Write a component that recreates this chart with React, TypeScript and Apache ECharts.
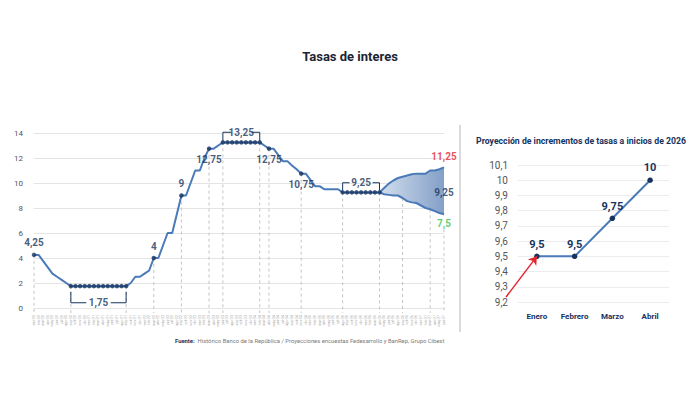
import React, { useEffect, useRef } from "react";
import * as echarts from "echarts";

// ---------- DATA ----------
const MESES = ["ene", "feb", "mar", "abr", "may", "jun", "jul", "ago", "sep", "oct", "nov", "dic"];
const ANIOS = ["20", "21", "22", "23", "24", "25", "26", "27"];
const FECHAS: string[] = ANIOS.flatMap((a) => MESES.map((m) => `${m}-${a}`)).slice(0, 90);

// Historical monthly policy rate (index 0 = ene-20)
const TASA_HIST = [
  4.25, 4.25, 3.75, 3.25, 2.75, 2.5, 2.25, 2.0,
  1.75, 1.75, 1.75, 1.75, 1.75, 1.75, 1.75, 1.75, 1.75, 1.75, 1.75, 1.75, 1.75,
  2.0, 2.5, 2.5, 2.75, 3.0, 4.0, 4.0, 5.0, 6.0, 6.0, 7.5, 9.0, 9.0, 10.0, 11.0, 11.0, 12.0, 12.75, 12.75, 13.0,
  13.25, 13.25, 13.25, 13.25, 13.25, 13.25, 13.25, 13.25, 13.25,
  13.0, 12.75, 12.75, 12.25, 11.75, 11.75, 11.4, 11.1, 10.75, 10.75, 10.25, 9.75, 9.75, 9.5, 9.5, 9.5, 9.5,
  9.25, 9.25, 9.25, 9.25, 9.25, 9.25, 9.25, 9.25, 9.25,
];
const INICIO_PROY = 75;
const PROY_ALTA = [9.25, 9.6, 9.95, 10.2, 10.4, 10.5, 10.6, 10.7, 10.75, 10.75, 10.75, 11.0, 11.0, 11.1, 11.25];
const PROY_BAJA = [9.25, 9.1, 9.05, 9.0, 9.0, 8.8, 8.55, 8.45, 8.4, 8.2, 8.0, 7.9, 7.75, 7.6, 7.5];
const PROY_CENTRAL = 9.25;

const PUNTOS = [0, 8, 9, 10, 11, 12, 13, 14, 15, 16, 17, 18, 19, 20, 26, 32, 38, 41, 42, 43, 44, 45, 46, 47, 48, 49, 51, 58, 67, 68, 69, 70, 71, 72, 73, 74, 75];
const VERTICALES = [0, 8, 20, 26, 32, 38, 41, 49, 51, 58, 67, 75, 80, 86, 89];

const MESES_2026 = ["Enero", "Febrero", "Marzo", "Abril"];
const PROY_2026 = [9.5, 9.5, 9.75, 10];

// ---------- STYLE ----------
const NAVY = "#16335e";
const LINE = "#4a7ab8";
const FONT = "Roboto, 'Noto Sans', sans-serif";

const fmt = (v: number) => String(Number(v.toFixed(2))).replace(".", ",");
const valAt = (i: number) => (i <= INICIO_PROY ? TASA_HIST[i] : PROY_BAJA[i - INICIO_PROY]);
const last = PROY_ALTA.length - 1;
const lastIdx = INICIO_PROY + last;

export default function App() {
  const ref = useRef<HTMLDivElement>(null);

  useEffect(() => {
    if (!ref.current) return;
    const chart = echarts.init(ref.current, undefined, { renderer: "svg" });

    const brackets = [
      { from: 8, to: 20, value: 1.75, y: 0.42, y0: 1.3, gap: 2.65 },
      { from: 41, to: 49, value: 13.25, y: 14.06, y0: 13.35, gap: 2.2 },
      { from: 67, to: 75, value: 9.25, y: 10.02, y0: 9.42, gap: 2.5 },
    ];
    const bracketSeries: any[] = [];
    brackets.forEach((b) => {
      const mid = (b.from + b.to) / 2;
      [
        [[b.from, b.y0], [b.from, b.y], [mid - b.gap, b.y]],
        [[mid + b.gap, b.y], [b.to, b.y], [b.to, b.y0]],
      ].forEach((d) =>
        bracketSeries.push({
          type: "line",
          xAxisIndex: 0,
          yAxisIndex: 0,
          data: d,
          symbol: "none",
          clip: false,
          silent: true,
          z: 4,
          lineStyle: { color: NAVY, width: 1 },
        })
      );
    });

    const label = (pos: string, dist: number, color = NAVY, size = 10) => ({
      show: true,
      position: pos,
      distance: dist,
      color,
      fontSize: size,
      fontWeight: "bold",
      fontFamily: FONT,
      textBorderWidth: 0,
    });

    const annotations = [
      { value: [0, TASA_HIST[0]], label: label("top", 5) },
      { value: [26, TASA_HIST[26]], label: label("top", 5) },
      { value: [32, TASA_HIST[32]], label: label("top", 5) },
      { value: [38, TASA_HIST[38]], label: label("bottom", 4) },
      { value: [51, TASA_HIST[51]], label: label("bottom", 4) },
      { value: [58, TASA_HIST[58]], label: label("bottom", 4) },
      { value: [lastIdx, PROY_ALTA[last]], label: label("top", 4, "#e0262d") },
      { value: [lastIdx, PROY_CENTRAL], label: label("inside", 0) },
      { value: [lastIdx, PROY_BAJA[last]], label: label("bottom", 2, "#3cc24e") },
      ...brackets.map((b) => ({ value: [(b.from + b.to) / 2, b.y], shown: b.value, label: label("inside", 0) })),
    ];

    const option: any = {
      animation: false,
      backgroundColor: "#ffffff",
      textStyle: { fontFamily: FONT },
      grid: [
        { left: 34, right: 256, top: 133, bottom: 86 },
        { left: 518, right: 31, top: 165, bottom: 92 },
      ],
      xAxis: [
        {
          type: "value",
          gridIndex: 0,
          min: 0,
          max: FECHAS.length - 1,
          interval: 1,
          axisLine: { show: false },
          axisTick: { show: false },
          splitLine: { show: false },
          axisLabel: {
            rotate: 90,
            fontSize: 3.5,
            color: "#a0a0a0",
            margin: 7,
            formatter: (v: number) => FECHAS[Math.round(v)] ?? "",
          },
        },
        {
          type: "category",
          gridIndex: 1,
          data: MESES_2026,
          boundaryGap: true,
          axisLine: { show: false },
          axisTick: { show: false },
          axisLabel: { color: NAVY, fontWeight: "bold", fontSize: 8, margin: 10 },
        },
      ],
      yAxis: [
        {
          type: "value",
          gridIndex: 0,
          min: 0,
          max: 14,
          interval: 2,
          axisLine: { show: false },
          axisTick: { show: false },
          axisLabel: { color: "#555", fontSize: 8, margin: 11 },
          splitLine: { lineStyle: { color: "#e4e4e4", width: 1 } },
        },
        {
          type: "value",
          gridIndex: 1,
          min: 9.2,
          max: 10.1,
          interval: 0.1,
          axisLine: { show: false },
          axisTick: { show: false },
          axisLabel: { color: "#555", fontSize: 10, margin: 10, formatter: (v: number) => fmt(v) },
          splitLine: { lineStyle: { color: "#ececec", width: 1 } },
        },
      ],
      series: [
        {
          name: "verticales",
          type: "custom",
          xAxisIndex: 0,
          yAxisIndex: 0,
          silent: true,
          clip: false,
          z: 0,
          data: VERTICALES.map((i) => [i, valAt(i) - (i === lastIdx ? 1.2 : 0)]),
          renderItem: (params: any, api: any) => {
            const top = api.coord([api.value(0), api.value(1)]);
            const bot = api.coord([api.value(0), 0]);
            return {
              type: "line",
              shape: { x1: top[0], y1: top[1], x2: bot[0], y2: bot[1] + 5 },
              style: { stroke: "#c4c4c4", lineWidth: 1, lineDash: [3, 3] },
            };
          },
        },
        {
          name: "rango",
          type: "custom",
          xAxisIndex: 0,
          yAxisIndex: 0,
          silent: true,
          z: 1,
          data: [[INICIO_PROY, PROY_CENTRAL]],
          renderItem: (params: any, api: any) => {
            const up = PROY_ALTA.map((v, k) => api.coord([INICIO_PROY + k, v]));
            const down = PROY_BAJA.map((v, k) => api.coord([INICIO_PROY + k, v])).reverse();
            return {
              type: "polygon",
              shape: { points: up.concat(down) },
              style: {
                fill: new echarts.graphic.LinearGradient(0, 0, 1, 0, [
                  { offset: 0, color: "#d2deee" },
                  { offset: 1, color: "#83a0c7" },
                ]),
              },
            };
          },
        },
        {
          name: "historico",
          type: "line",
          xAxisIndex: 0,
          yAxisIndex: 0,
          data: TASA_HIST.map((v, i) => [i, v]),
          symbol: "none",
          clip: false,
          lineStyle: { color: LINE, width: 2 },
          z: 3,
        },
        {
          name: "alta",
          type: "line",
          xAxisIndex: 0,
          yAxisIndex: 0,
          data: PROY_ALTA.map((v, k) => [INICIO_PROY + k, v]),
          symbol: "none",
          lineStyle: { color: LINE, width: 2 },
          z: 3,
        },
        {
          name: "baja",
          type: "line",
          xAxisIndex: 0,
          yAxisIndex: 0,
          data: PROY_BAJA.map((v, k) => [INICIO_PROY + k, v]),
          symbol: "none",
          lineStyle: { color: LINE, width: 2 },
          z: 3,
        },
        {
          name: "puntos",
          type: "scatter",
          xAxisIndex: 0,
          yAxisIndex: 0,
          data: PUNTOS.map((i) => [i, TASA_HIST[i]]),
          symbolSize: 4.5,
          itemStyle: { color: NAVY },
          z: 5,
        },
        ...bracketSeries,
        {
          name: "etiquetas",
          type: "scatter",
          xAxisIndex: 0,
          yAxisIndex: 0,
          symbolSize: 4,
          itemStyle: { color: "rgba(0,0,0,0)" },
          clip: false,
          silent: true,
          z: 6,
          data: annotations,
          label: {
            formatter: (p: any) => fmt(p.data.shown ?? p.value[1]),
          },
        },
        {
          name: "proyeccion2026",
          type: "line",
          xAxisIndex: 1,
          yAxisIndex: 1,
          data: PROY_2026,
          symbol: "circle",
          symbolSize: 5.5,
          clip: false,
          itemStyle: { color: NAVY },
          lineStyle: { color: LINE, width: 2 },
          label: {
            show: true,
            position: "top",
            distance: 4,
            color: NAVY,
            fontSize: 11,
            fontWeight: "bold",
            formatter: (p: any) => fmt(p.value),
          },
          markLine: {
            silent: true,
            symbol: ["none", "arrow"],
            symbolSize: 8,
            label: { show: false },
            lineStyle: { color: "#e3262e", width: 1.5, type: "solid" },
            data: [[{ x: 506, y: 297 }, { coord: [MESES_2026[0], PROY_2026[0]] }]],
          },
        },
      ],
      graphic: [
        {
          type: "text",
          left: "center",
          top: 50,
          style: { text: "Tasas de interes", fontSize: 13, fontWeight: "bold", fill: "#1c2433", fontFamily: FONT },
        },
        {
          type: "text",
          x: 581,
          y: 141,
          style: {
            text: "Proyección de incrementos de tasas a inicios de 2026",
            fontSize: 8.7,
            fontWeight: "bold",
            fill: NAVY,
            fontFamily: FONT,
            textAlign: "center",
            textVerticalAlign: "middle",
          },
        },
        {
          type: "text",
          x: 175,
          y: 341,
          style: {
            text: "{b|Fuente:} {n|Histórico Banco de la República / Proyecciones encuestas Fedesarrollo y BanRep, Grupo Cibest}",
            textVerticalAlign: "middle",
            fontFamily: FONT,
            rich: {
              b: { fontSize: 5.85, fontWeight: "bold", fill: NAVY, color: NAVY, fontFamily: FONT },
              n: { fontSize: 5.85, fill: "#7a7a7a", color: "#7a7a7a", fontFamily: FONT },
            },
          },
        },
        {
          type: "line",
          shape: { x1: 460, y1: 125, x2: 460, y2: 332 },
          style: { stroke: "#cfcfcf", lineWidth: 1.5 },
        },
      ],
    };

    chart.setOption(option);
    return () => chart.dispose();
  }, []);

  return (
    <div
      ref={ref}
      style={{ position: "fixed", left: 0, top: 0, width: 700, height: 394, background: "#fff" }}
    />
  );
}
